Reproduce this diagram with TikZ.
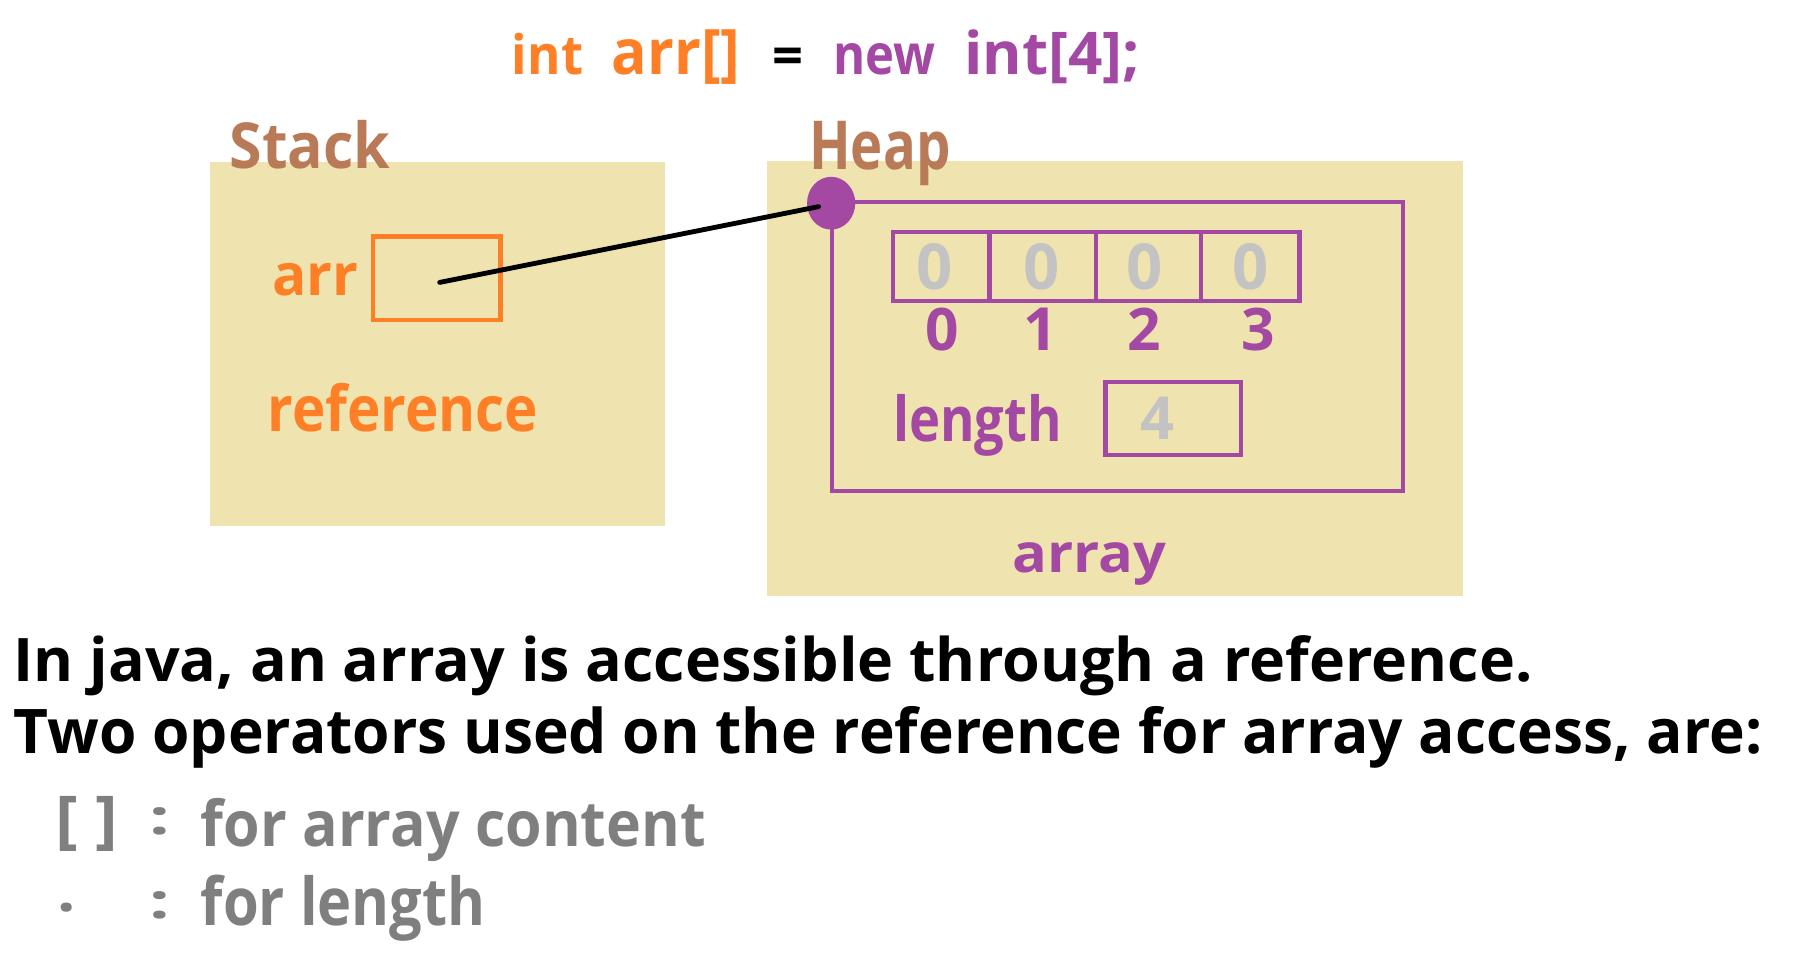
\documentclass[tikz,border=0pt]{standalone}
\usepackage{fontspec}
\setmainfont{Open Sans}
\usepackage{graphicx}
\usetikzlibrary{shapes.geometric}
\definecolor{mytan}{HTML}{EFE4B0}
\definecolor{myorange}{HTML}{FF7F27}
\definecolor{mypurple}{HTML}{A349A4}
\definecolor{mybrown}{HTML}{B97A57}
\definecolor{lgrey}{HTML}{C3C3C3}
\definecolor{dgrey}{HTML}{7F7F7F}
\newlength\pxu
\setlength\pxu{0.5pt}
\newcommand\fit[3]{\resizebox{#1\pxu}{#2\pxu}{#3}}
\newcommand\fith[2]{\resizebox{!}{#1\pxu}{#2}}
\newcommand\fitt[3]{\resizebox*{#1\pxu}{#2\pxu}{#3}}
\begin{document}
\begin{tikzpicture}[x=0.5pt,y=-0.5pt,
  txt/.style={inner sep=0pt, outer sep=0pt, anchor=base west, font=\bfseries},
  ctxt/.style={inner sep=0pt, outer sep=0pt, anchor=base, font=\bfseries},
  mtxt/.style={inner sep=0pt, outer sep=0pt, anchor=center, font=\bfseries},
  pline/.style={draw=mypurple, line width=1.8pt},
  obox/.style={draw=myorange, line width=1.8pt, inner sep=0pt, minimum width=55.5pt, minimum height=36.5pt},
  conn/.style={draw=black, line width=2.1pt, line cap=round}]
\useasboundingbox (0,0) rectangle (1568,848);

% title
\node[txt, text=myorange] (t1) at (446,65) {\fit{62}{36}{int}};
\node[txt, text=myorange] (t2) at (533,65) {\fit{112}{39}{arr[]}};
\node[txt, text=black] (t3) at (673,65) {\fit{27}{23}{=}};
\node[txt, text=mypurple] (t4) at (726,65) {\fit{89}{27}{new}};
\node[txt, text=mypurple] (t5) at (840,65) {\fit{153}{39}{int[4];}};

% regions
\fill[mytan] (183,141) rectangle (579,458);
\fill[mytan] (668,140) rectangle (1274,519);

\node[txt, text=mybrown] (stack) at (200,147) {\fit{140}{42}{Stack}};
\node[txt, text=mybrown] (heap) at (705,148) {\fit{123}{42}{Heap}};

% stack content
\node[txt, text=myorange] (arrlbl) at (237,257) {\fit{75}{28}{arr}};
\node[obox] (arrbox) at (380.5,242.5) {};
\node[txt, text=myorange] (ref) at (233,376) {\fit{236}{42}{reference}};

% heap content
\draw[pline] (725,176) rectangle (1222,428);
\draw[pline] (778,202) rectangle (1132,262);
\draw[pline] (862,202) -- (862,262);
\draw[pline] (955,202) -- (955,262);
\draw[pline] (1046,202) -- (1046,262);
\node[ctxt, text=lgrey] (v0) at (814,252) {\fith{40}{0}};
\node[ctxt, text=lgrey] (v1) at (907,252) {\fith{40}{0}};
\node[ctxt, text=lgrey] (v2) at (997,252) {\fith{40}{0}};
\node[ctxt, text=lgrey] (v3) at (1089,252) {\fith{40}{0}};
\node[ctxt, text=mypurple] (i0) at (821,305) {\fith{37}{0}};
\node[ctxt, text=mypurple] (i1) at (906,305) {\fith{37}{1}};
\node[ctxt, text=mypurple] (i2) at (997,305) {\fith{37}{2}};
\node[ctxt, text=mypurple] (i3) at (1096,305) {\fith{37}{3}};
\node[txt, text=mypurple] (len) at (778,385) {\fit{147}{41}{length}};
\draw[pline] (963,333) rectangle (1081,396);
\node[ctxt, text=lgrey] (lv) at (1008,383) {\fith{37}{4}};
\node[txt, text=mypurple] (arraylbl) at (882,499) {\fit{134}{26}{array}};
\node[ellipse, fill=mypurple, inner sep=0pt, minimum width=21pt, minimum height=23pt] (dot) at (724,177) {};

% connector
\coordinate (a0) at (383,246);
\coordinate (d0) at (713,180);
\draw[conn] (a0) -- (d0);

% bottom text
\node[txt, text=black] (l1) at (12,594) {\fit{1323}{40}{In java, an array is accessible through a reference.}};
\node[txt, text=black] (l2) at (12,656) {\fit{1523}{41}{Two operators used on the reference for array access, are:}};
\node[mtxt, text=dgrey] (b1) at (75.5,718) {\fitt{55}{48}{[ ]}};
\node[mtxt, text=dgrey] (c1) at (139,715.5) {\fitt{18}{24}{:}};
\node[txt, text=dgrey] (d1) at (175,737) {\fit{440}{42}{for array content}};
\node[mtxt, text=dgrey] (b2) at (58,791) {\fitt{16}{8}{.}};
\node[mtxt, text=dgrey] (c2) at (139,789) {\fitt{18}{24}{:}};
\node[txt, text=dgrey] (d2) at (175,806) {\fit{248}{44}{for length}};
\end{tikzpicture}
\end{document}
